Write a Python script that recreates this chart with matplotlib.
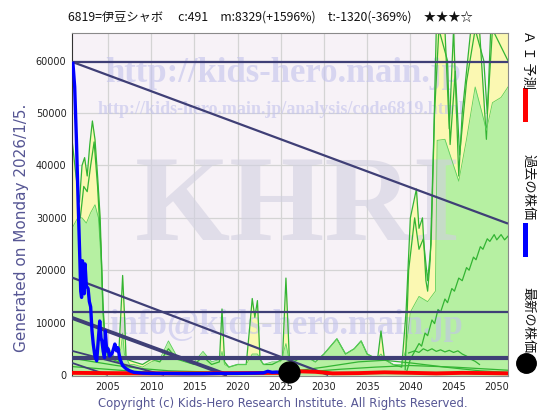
import matplotlib
matplotlib.use('Agg')
import matplotlib.pyplot as plt
from matplotlib.lines import Line2D
from matplotlib.patches import Rectangle

# ---------------- data ----------------
title_text = "6819=伊豆シャボ　 c:491　m:8329(+1596%)　t:-1320(-369%)　★★★☆"
generated_text = "Generated on Monday 2026/1/5."
copyright_text = "Copyright (c) Kids-Hero Research Institute. All Rights Reserved."
legend_labels = ["Ａ Ｉ 予測", "過去の株価", "最新の株価"]

x_ticks = [2005, 2010, 2015, 2020, 2025, 2030, 2035, 2040, 2045, 2050]
y_ticks = [0, 10000, 20000, 30000, 40000, 50000, 60000]

# past stock price (blue)
past_years = [2000.95, 2001.15, 2001.35, 2001.55, 2001.75, 2001.85, 2001.95, 2002.05, 2002.15,
              2002.25, 2002.35, 2002.5, 2002.7, 2002.85, 2003.0, 2003.15, 2003.3, 2003.5,
              2003.7, 2003.85, 2004.05, 2004.2, 2004.3, 2004.45, 2004.6, 2004.7, 2004.85,
              2005.0, 2005.2, 2005.45, 2005.65, 2005.8, 2006.0, 2006.15, 2006.4, 2006.7,
              2007.1, 2007.5, 2008.0, 2009.0, 2010.0, 2012.0, 2014.0, 2016.0, 2018.0,
              2020.0, 2022.0, 2023.0, 2023.5, 2024.0, 2024.5, 2025.0]
past_vals = [59500, 55000, 45000, 33000, 22000, 16000, 14800, 21800, 17500,
             15500, 21200, 17000, 16500, 14000, 13000, 8500, 5900, 3500,
             2700, 6000, 10300, 7000, 6500, 4500, 3300, 8400, 4600,
             5000, 3600, 4000, 5000, 5900, 4600, 5200, 3000, 1800,
             1200, 800, 500, 350, 300, 280, 250, 250, 300,
             300, 350, 400, 700, 500, 550, 500]

# AI forecast (red)
ai_years = [2000.84, 2005, 2010, 2015, 2020, 2025, 2027, 2029, 2031, 2034, 2037, 2040,
            2043, 2046, 2049, 2051.3]
ai_vals = [400, 350, 300, 300, 350, 400, 700, 600, 300, 350, 500, 400,
           300, 400, 350, 300]

# latest price
latest_year = 2026.0
latest_price = 491

# forecast band: outer (yellow) envelope
outer_years = [2000.84, 2001.3, 2001.7, 2002.0, 2002.3, 2002.6, 2002.9, 2003.2, 2003.5, 2003.8,
               2004.1, 2004.4, 2004.7, 2005.0, 2005.5, 2006.2, 2006.5, 2006.7, 2006.9, 2007.1,
               2008.0, 2009.0, 2010.0, 2011.0, 2012.0, 2013.0, 2014.0, 2015.0, 2016.0, 2017.0,
               2017.9, 2018.2, 2018.5, 2019.0, 2020.0, 2021.0, 2021.4, 2021.7, 2022.0, 2022.3,
               2022.6, 2023.0, 2024.0, 2025.2, 2025.6, 2026.0, 2026.5, 2027.0, 2028.0, 2029.0,
               2030.0, 2031.5, 2032.5, 2033.5, 2034.3, 2035.0, 2036.2, 2036.6, 2037.0, 2038.0,
               2039.0, 2039.5, 2040.0, 2040.7, 2041.0, 2041.4, 2041.8, 2042.0, 2042.3, 2042.7,
               2043.0, 2044.0, 2044.5, 2045.0, 2045.6, 2046.0, 2047.0, 2048.0, 2048.8, 2049.3,
               2051.3]
outer_vals = [45000, 38000, 33000, 40000, 41500, 38000, 44000, 48500, 45000, 38000,
              30000, 14000, 6000, 4000, 3000, 2500, 12000, 19000, 12000, 3000,
              2500, 2000, 3000, 2500, 5000, 3000, 2500, 2000, 3500, 2000,
              2500, 12600, 2500, 1500, 2000, 2000, 9000, 14600, 11000, 14200,
              3000, 2000, 2000, 3000, 18500, 3000, 2500, 3000, 3500, 2500,
              4000, 6900, 4000, 5000, 6500, 4000, 3000, 8400, 3000, 2000,
              1500, 12000, 30000, 35500, 28000, 30000, 18000, 16000, 22000, 45000,
              66000, 66000, 47000, 66000, 38000, 50000, 66000, 66000, 45000, 66000,
              66000]

# forecast band: inner (green) envelope
inner_years = [2000.84, 2001.5, 2002.0, 2002.5, 2003.0, 2003.5, 2003.9, 2004.2, 2004.4, 2004.8,
               2005.5, 2006.0, 2006.5, 2006.7, 2006.9, 2007.5, 2008.0, 2009.0, 2010.0, 2011.0,
               2012.0, 2013.0, 2014.0, 2015.0, 2016.0, 2017.0, 2018.0, 2018.2, 2018.5, 2019.0,
               2020.0, 2021.0, 2021.7, 2022.3, 2023.0, 2024.0, 2025.0, 2025.6, 2026.0, 2027.0,
               2028.0, 2029.0, 2030.0, 2031.5, 2032.5, 2033.5, 2034.3, 2035.0, 2036.0, 2036.6,
               2037.0, 2038.0, 2039.0, 2039.5, 2040.0, 2041.0, 2042.0, 2042.9, 2043.1, 2044.0,
               2045.0, 2045.6, 2046.5, 2047.0, 2047.5, 2048.3, 2048.8, 2049.5, 2050.5, 2051.3]
inner_vals = [28000, 30000, 30000, 29000, 31000, 32500, 30000, 22000, 12000, 6000,
              4000, 3000, 5000, 8000, 4000, 2000, 2000, 1500, 2500, 3000,
              6500, 3500, 2500, 2500, 4500, 2500, 3000, 4500, 2000, 1500,
              2000, 2000, 4000, 4000, 2000, 2500, 2500, 6000, 2500, 3000,
              3500, 2500, 4000, 6900, 4000, 5000, 6500, 4000, 3000, 4000,
              3000, 2000, 2000, 5000, 12000, 15000, 14000, 16000, 44800, 45000,
              40000, 37000, 45000, 50000, 55000, 50000, 46700, 52000, 53000, 55000]

# inner green lines inside the yellow band
mid1_years = [2001.8, 2002.2, 2002.6, 2003.0, 2003.4, 2003.8, 2004.2, 2004.5, 2005.0]
mid1_vals = [30000, 36000, 35000, 40000, 44500, 36000, 24000, 10000, 3000]
mid2_years = [2039.4, 2039.8, 2040.5, 2041.0, 2041.5, 2042.0, 2042.4, 2042.8, 2043.3, 2044.3,
              2044.6, 2045.2, 2045.7, 2046.5, 2047.5, 2048.5, 2048.9, 2049.5, 2051.3]
mid2_vals = [1000, 20000, 30000, 24000, 26000, 18000, 25000, 50000, 66000, 60000,
             44000, 58000, 42000, 56000, 66000, 60000, 50000, 66000, 60000]
rise_years = [2039.6, 2040.0, 2040.5, 2041.0, 2041.3, 2041.7, 2042.0, 2042.5, 2042.8, 2043.2,
              2043.5, 2044.0, 2044.3, 2044.8, 2045.1, 2045.6, 2046.0, 2046.5, 2046.8, 2047.3,
              2047.6, 2048.1, 2048.4, 2048.9, 2049.2, 2049.7, 2050.0, 2050.5, 2050.9, 2051.3]
rise_vals = [800, 3000, 4500, 6000, 5500, 8000, 7500, 10500, 9800, 12500,
             12000, 14500, 13800, 16500, 16000, 18500, 18000, 20500, 20000, 22500,
             22000, 24500, 24000, 26000, 25500, 26800, 25800, 26800, 25800, 26500]
wave_years = [2039.8, 2040.5, 2041.0, 2041.5, 2042.0, 2042.5, 2043.0, 2043.5, 2044.0, 2044.5,
              2045.0, 2045.5, 2046.0, 2046.5, 2047.0, 2047.5, 2048.0]
wave_vals = [4200, 4600, 4300, 5000, 4600, 5000, 4500, 4800, 4400, 4700,
             4300, 4600, 4000, 3600, 3000, 2600, 2000]
low1_years = [2000.84, 2003, 2006, 2009, 2012, 2016, 2020, 2024, 2026, 2030, 2034, 2037, 2040, 2044, 2048, 2051.3]
low1_vals = [3200, 2600, 1800, 1200, 800, 600, 500, 500, 600, 1500, 2500, 2800, 2300, 1500, 800, 500]
low2_years = [2000.84, 2004, 2008, 2012, 2018, 2024, 2028, 2032, 2036, 2040, 2045, 2051.3]
low2_vals = [1600, 1200, 700, 400, 300, 300, 600, 1100, 1500, 1800, 1500, 900]

# support / resistance lines (start year, start value, end year, end value)
hline_levels = [59800, 12000, 3300]
hline_widths = [1.6, 1.6, 3.0]
diag_start_years = [2000.84, 2000.84, 2000.84, 2000.84, 2000.84]
diag_start_vals = [59800, 18600, 10900, 4600, 2300]
diag_end_years = [2051.3, 2030.5, 2018.8, 2011.5, 2005.0]
diag_end_vals = [28900, 0, 0, 0, 0]
diag_widths = [1.6, 1.6, 2.8, 1.3, 1.3]

# ---------------- figure ----------------
W, H = 560, 420
fig = plt.figure(figsize=(W / 100, H / 100), dpi=100)
fig.patch.set_facecolor('white')

def fx(px):
    return px / W

def fy(py):
    return 1 - py / H

ax = fig.add_axes([fx(72), fy(376), fx(508) - fx(72), fy(33) - fy(376)])
ax.set_facecolor('#f7f2f7')
ax.set_xlim(2000.84, 2051.3)
ax.set_ylim(-200, 65300)

ax.set_xticks(x_ticks)
ax.set_xticklabels([str(v) for v in x_ticks])
ax.set_yticks(y_ticks)
ax.set_yticklabels([str(v) for v in y_ticks])
ax.tick_params(axis='both', labelsize=7, colors='#222222', length=0, pad=4)
ax.grid(True, color='#d4d4d4', lw=0.9, zorder=0.5)
ax.set_axisbelow(True)
for side, sp in ax.spines.items():
    sp.set_color('#8a8a8a')
    sp.set_linewidth(0.8)
ax.spines['left'].set_color('#333333')

band_line = '#33b433'
ax.fill_between(outer_years, 0, outer_vals, color='#fbf8b2', lw=0, zorder=1)
ax.fill_between(inner_years, 0, inner_vals, color='#b6f0a2', lw=0, zorder=1.1)

# watermark texts
wm = dict(transform=fig.transFigure, family='Liberation Serif', weight='bold',
          ha='center', va='center', zorder=1.5)
ax.text(fx(283), fy(74), "http://kids-hero.main.jp", fontsize=25, color='#c2c2ec', alpha=0.6, **wm)
ax.text(fx(281), fy(110), "http://kids-hero.main.jp/analysis/code6819.html", fontsize=13,
        color='#c2c2ec', alpha=0.6, **wm)
ax.text(fx(298), fy(210), "KHRI", fontsize=88, color='#d2d0e0', alpha=0.6, **wm)
ax.text(fx(286), fy(325), "info@kids-hero.main.jp", fontsize=25, color='#c2c2ec', alpha=0.6, **wm)

# band lines
ax.plot(outer_years, outer_vals, color=band_line, lw=0.9, zorder=2)
ax.plot(inner_years, inner_vals, color='#5cd05c', lw=0.6, zorder=2)
ax.plot(mid1_years, mid1_vals, color=band_line, lw=0.9, zorder=2)
ax.plot(mid2_years, mid2_vals, color=band_line, lw=0.9, zorder=2)
ax.plot(rise_years, rise_vals, color=band_line, lw=0.9, zorder=2)
ax.plot(wave_years, wave_vals, color=band_line, lw=0.9, zorder=2)
ax.plot(low1_years, low1_vals, color=band_line, lw=0.9, zorder=2)
ax.plot(low2_years, low2_vals, color=band_line, lw=0.9, zorder=2)

navy = '#3f3f76'
for lv, lw in zip(hline_levels, hline_widths):
    ax.axhline(lv, color=navy, lw=lw, zorder=3)
for x0, y0, x1, y1, lw in zip(diag_start_years, diag_start_vals, diag_end_years, diag_end_vals, diag_widths):
    ax.plot([x0, x1], [y0, y1], color=navy, lw=lw, zorder=3, solid_capstyle='butt')

ax.plot(ai_years, ai_vals, color='#ff0000', lw=2.8, zorder=4)
ax.plot(past_years, past_vals, color='#0000ff', lw=2.4, zorder=5)
ax.plot([latest_year], [latest_price], 'o', color='black', markersize=15, zorder=6, clip_on=False)

# texts
jp = ['Noto Sans CJK JP', 'DejaVu Sans']
fig.text(fx(68), fy(17), title_text, fontsize=8.8, ha='left', va='center', family=jp, color='#111111')
fig.text(fx(22), fy(228), generated_text, rotation=90, fontsize=11, ha='center', va='center',
         color='#565694')
fig.text(fx(283), fy(403), copyright_text, fontsize=8.4, ha='center', va='center', color='#565694')

# right legend
lx = 526
fig.text(fx(lx + 2), fy(59), legend_labels[0], rotation=-90, fontsize=9.5, ha='center', va='center',
         family=jp, color='#111111')
fig.add_artist(Rectangle((fx(lx - 3), fy(122)), fx(5), fy(88) - fy(122), transform=fig.transFigure,
                         color='#ff0000', lw=0))
fig.text(fx(lx + 2), fy(187), legend_labels[1], rotation=-90, fontsize=9.5, ha='center', va='center',
         family=jp, color='#111111')
fig.add_artist(Rectangle((fx(lx - 3), fy(257)), fx(5), fy(223) - fy(257), transform=fig.transFigure,
                         color='#0000ff', lw=0))
fig.text(fx(lx + 2), fy(320), legend_labels[2], rotation=-90, fontsize=9.5, ha='center', va='center',
         family=jp, color='#111111')
fig.add_artist(Line2D([fx(lx)], [fy(363)], marker='o', markersize=14, color='black',
                      transform=fig.transFigure))

fig.savefig('out.png', dpi=100)
